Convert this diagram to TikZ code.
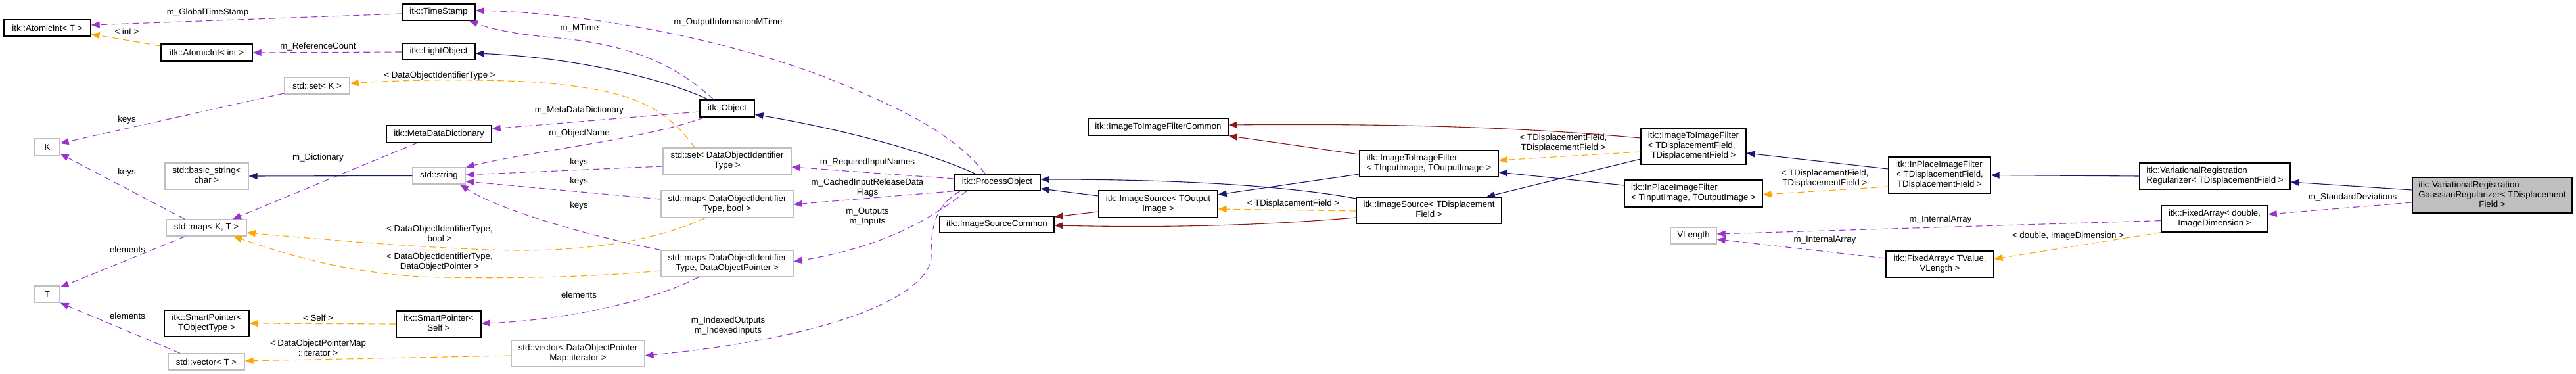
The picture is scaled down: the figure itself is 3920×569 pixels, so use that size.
\documentclass[tikz,border=0pt]{standalone}
\usepackage{fontspec}
\setmainfont{Liberation Sans}
\usetikzlibrary{arrows.meta}
\definecolor{eblue}{HTML}{191970}
\definecolor{epurple}{HTML}{9A32CD}
\definecolor{eorange}{HTML}{FFA500}
\definecolor{ered}{HTML}{8B1A1A}
\definecolor{bgray}{HTML}{BFBFBF}
\newcommand{\dfont}{\fontsize{13.3}{15}\selectfont}
\newcommand{\twol}[2]{\begin{tabular}{@{}l@{}}#1\\\multicolumn{1}{@{}c@{}}{#2}\end{tabular}}
\newcommand{\threel}[3]{\begin{tabular}{@{}l@{}}#1\\#2\\\multicolumn{1}{@{}c@{}}{#3}\end{tabular}}
\begin{document}
\begin{tikzpicture}[x=1pt,y=-1pt,
  sz/.style 2 args={minimum width=#1pt,minimum height=#2pt},
  cls/.style={draw=black, line width=1.3pt, inner sep=0pt, font=\dfont},
  ext/.style={draw=bgray, line width=1.3pt, inner sep=0pt, font=\dfont},
  lbl/.style={font=\dfont, inner sep=0pt, align=center},
  tip/.style={-{Triangle[length=13pt,width=10pt]}},
  inh/.style={draw=eblue, line width=1.1pt, tip},
  priv/.style={draw=ered, line width=1.1pt, tip},
  use/.style={draw=epurple, line width=1.1pt, dash pattern=on 10pt off 6pt, tip},
  tmpl/.style={draw=eorange, line width=1.1pt, dash pattern=on 10pt off 6pt, tip}]
\fill[white] (0,0) rectangle (3920,569);
\useasboundingbox (0,0) rectangle (3920,569);

% nodes
\node[cls,sz={132}{25}] (atT) at (72,42.5) {itk::AtomicInt< T >};
\node[cls,sz={139}{26}] (atInt) at (314.5,80) {itk::AtomicInt< int >};
\node[ext,sz={99}{25}] (setK) at (482.5,130.5) {std::set< K >};
\node[ext,sz={38}{26}] (K) at (72,224) {K};
\node[ext,sz={127}{40}] (bstr) at (314.5,268) {\twol{std::basic\_string<}{char >}};
\node[ext,sz={122}{25}] (mapKT) at (314,346.5) {std::map< K, T >};
\node[ext,sz={38}{25}] (T) at (72,447.5) {T};
\node[cls,sz={129}{40}] (spTOT) at (314.5,492) {\twol{itk::SmartPointer<}{TObjectType >}};
\node[ext,sz={116}{25}] (vecT) at (314,550.5) {std::vector< T >};
\node[cls,sz={111}{25}] (ts) at (667.5,18.5) {itk::TimeStamp};
\node[cls,sz={111}{25}] (lo) at (667.5,78.5) {itk::LightObject};
\node[cls,sz={160}{26}] (mdd) at (668,204) {itk::MetaDataDictionary};
\node[ext,sz={80}{25}] (str) at (668,267.5) {std::string};
\node[cls,sz={129}{40}] (spSelf) at (667.5,493) {\twol{itk::SmartPointer<}{Self >}};
\node[cls,sz={83}{26}] (obj) at (1106.5,165) {itk::Object};
\node[ext,sz={195}{40}] (setD) at (1106.5,245) {\twol{std::set< DataObjectIdentifier}{Type >}};
\node[ext,sz={201}{41}] (mapDB) at (1106.5,310.5) {\twol{std::map< DataObjectIdentifier}{Type, bool >}};
\node[ext,sz={201}{40}] (mapDP) at (1106.5,401) {\twol{std::map< DataObjectIdentifier}{Type, DataObjectPointer >}};
\node[ext,sz={203}{40}] (vecD) at (879.5,538) {\twol{std::vector< DataObjectPointer}{Map::iterator >}};
\node[cls,sz={131}{25}] (po) at (1517.5,277.5) {itk::ProcessObject};
\node[cls,sz={213}{26}] (itifc) at (1762.5,193) {itk::ImageToImageFilterCommon};
\node[cls,sz={181}{41}] (isTO) at (1762.5,310.5) {\twol{itk::ImageSource< TOutput}{Image >}};
\node[cls,sz={174}{25}] (isc) at (1517,341.5) {itk::ImageSourceCommon};
\node[cls,sz={211}{40}] (itifTT) at (2174.5,249) {\twol{itk::ImageToImageFilter}{< TInputImage, TOutputImage >}};
\node[cls,sz={221}{40}] (isD) at (2174.5,320) {\twol{itk::ImageSource< TDisplacement}{Field >}};
\node[cls,sz={160}{55}] (itifD) at (2577,222.5) {\threel{itk::ImageToImageFilter}{< TDisplacementField,}{TDisplacementField >}};
\node[cls,sz={210}{41}] (ipTT) at (2577,294.5) {\twol{itk::InPlaceImageFilter}{< TInputImage, TOutputImage >}};
\node[ext,sz={70}{25}] (vlen) at (2577,358.5) {VLength};
\node[cls,sz={155}{55}] (ipD) at (2951.5,266.5) {\threel{itk::InPlaceImageFilter}{< TDisplacementField,}{TDisplacementField >}};
\node[cls,sz={164}{40}] (faTV) at (2952,402) {\twol{itk::FixedArray< TValue,}{VLength >}};
\node[cls,sz={229}{40}] (vrr) at (3370.5,268) {\twol{itk::VariationalRegistration}{Regularizer< TDisplacementField >}};
\node[cls,sz={162}{40}] (faD) at (3370,333) {\twol{itk::FixedArray< double,}{ImageDimension >}};
\node[cls,fill=bgray,sz={243}{54}] (gauss) at (3792.5,297) {\threel{itk::VariationalRegistration}{GaussianRegularizer< TDisplacement}{Field >}};

% labels
\node[lbl] (l1) at (316,19) {m\_GlobalTimeStamp};
\node[lbl] (l2) at (193,48) {< int >};
\node[lbl] (l3) at (484,71) {m\_ReferenceCount};
\node[lbl] (l4) at (669,115) {< DataObjectIdentifierType >};
\node[lbl] (l5) at (193,182.5) {keys};
\node[lbl] (l6) at (193,262) {keys};
\node[lbl] (l7) at (484,240.5) {m\_Dictionary};
\node[lbl] (l9) at (669,355) {< DataObjectIdentifierType,\\bool >};
\node[lbl] (l10) at (669,398.5) {< DataObjectIdentifierType,\\DataObjectPointer >};
\node[lbl] (l11) at (881,247) {keys};
\node[lbl] (l12) at (881,276) {keys};
\node[lbl] (l13) at (881,313) {keys};
\node[lbl] (l14) at (881.5,167.6) {m\_MetaDataDictionary};
\node[lbl] (l15) at (881.5,203.5) {m\_ObjectName};
\node[lbl] (l17) at (882,43.5) {m\_MTime};
\node[lbl] (l18) at (1108,34.5) {m\_OutputInformationMTime};
\node[lbl] (l20) at (1320,247) {m\_RequiredInputNames};
\node[lbl] (l21) at (1320,286) {m\_CachedInputReleaseData\\Flags};
\node[lbl] (l22) at (1320,329.5) {m\_Outputs\\m\_Inputs};
\node[lbl] (l23) at (1108,496) {m\_IndexedOutputs\\m\_IndexedInputs};
\node[lbl] (l24) at (484,484) {< Self >};
\node[lbl] (l25) at (881,448.5) {elements};
\node[lbl] (l26) at (194,481) {elements};
\node[lbl] (l27) at (194,380) {elements};
\node[lbl] (l28) at (484,529) {< DataObjectPointerMap\\::iterator >};
\node[lbl] (l32) at (1968,310) {< TDisplacementField >};
\node[lbl] (l36) at (2379,217.5) {< TDisplacementField,\\TDisplacementField >};
\node[lbl] (l40) at (2777,272) {< TDisplacementField,\\TDisplacementField >};
\node[lbl] (l43) at (3580,300.5) {m\_StandardDeviations};
\node[lbl] (l44) at (2953,334.5) {m\_InternalArray};
\node[lbl] (l45) at (2777,365) {m\_InternalArray};
\node[lbl] (l46) at (3147,359) {< double, ImageDimension >};

% edges
\draw[use] (ts.west |- 0,21) -- (atT.east |- 0,38);
\draw[tmpl] (atInt.west |- 0,70) -- (atT.east |- 0,52);
\draw[use] (lo.west |- 0,79) -- (atInt.east |- 0,80);
\draw[tmpl] (setD.north -| 1057,0) .. controls (1010,160) and (960,135) .. (800,124) .. controls (700,120) and (600,122) .. (setK.east |- 0,127);
\draw[use] (setK.west |- 0,142) -- (K.east |- 0,218);
\draw[use] (mapKT.north -| 281,0) -- (K.east |- 0,234);
\draw[use] (mdd.south -| 634,0) -- (mapKT.north -| 354,0);
\draw[inh] (str.west) -- (bstr.east);
\draw[tmpl] (mapDB.south -| 1073,0) .. controls (1000,365) and (900,382) .. (780,381) .. controls (650,378) and (500,365) .. (mapKT.east |- 0,354);
\draw[tmpl] (mapDP.west |- 0,412) .. controls (900,422) and (750,425) .. (640,421) .. controls (520,414) and (430,385) .. (mapKT.south -| 355,0);
\draw[use] (setD.west |- 0,253) -- (str.east |- 0,266);
\draw[use] (mapDB.west |- 0,303) -- (str.east |- 0,276);
\draw[use] (mapDP.north west) .. controls (900,360) and (760,320) .. (str.south -| 700,0);
\draw[use] (obj.west |- 0,170) -- (mdd.east |- 0,196);
\draw[use] (obj.south -| 1072,0) .. controls (980,212) and (820,228) .. (str.north east);
\draw[inh] (obj.north -| 1078,0) .. controls (1010,120) and (880,88) .. (lo.east |- 0,81);
\draw[use] (obj.north -| 1086,0) .. controls (1040,110) and (980,70) .. (850,58) .. controls (790,53) and (750,45) .. (ts.south -| 714,0);
\draw[use] (po.north -| 1499,0) .. controls (1450,200) and (1360,160) .. (1250,115) .. controls (1100,60) and (900,20) .. (ts.east |- 0,16);
\draw[inh] (po.north -| 1484,0) .. controls (1420,235) and (1300,200) .. (obj.east |- 0,174);
\draw[use] (po.west |- 0,272) -- (setD.east |- 0,254);
\draw[use] (po.south west) -- (mapDB.east |- 0,311);
\draw[use] (po.south -| 1471,0) .. controls (1420,330) and (1350,375) .. (mapDP.east |- 0,398);
\draw[use] (po.south -| 1461,0) .. controls (1420,315) and (1417,350) .. (1417,390) .. controls (1417,440) and (1300,510) .. (vecD.east |- 0,541);
\draw[tmpl] (spSelf.west) -- (spTOT.east);
\draw[use] (mapDP.south -| 1063,0) .. controls (990,460) and (850,488) .. (spSelf.east |- 0,492);
\draw[use] (vecT.north -| 274,0) -- (T.south east);
\draw[use] (mapKT.south -| 282,0) -- (T.east |- 0,437);
\draw[tmpl] (vecD.west |- 0,541) -- (vecT.east |- 0,549);
\draw[inh] (isTO.west |- 0,298) -- (po.east |- 0,287);
\draw[priv] (isTO.west |- 0,322) -- (isc.east |- 0,330);
\draw[inh] (itifTT.west |- 0,265) -- (isTO.east |- 0,296);
\draw[inh] (isD.west |- 0,302) .. controls (1960,283) and (1800,273) .. (po.east |- 0,273);
\draw[tmpl] (isD.west |- 0,321) -- (isTO.east |- 0,318);
\draw[priv] (isD.west |- 0,331) .. controls (1900,345) and (1750,346) .. (isc.east |- 0,343);
\draw[priv] (itifTT.west |- 0,235) -- (itifc.south east);
\draw[priv] (itifD.west |- 0,210) .. controls (2300,192) and (2100,188) .. (itifc.east |- 0,190);
\draw[tmpl] (itifD.west |- 0,231) -- (itifTT.east |- 0,244);
\draw[inh] (itifD.west |- 0,242) -- (isD.north -| 2262,0);
\draw[inh] (ipTT.west |- 0,282) -- (itifTT.east |- 0,262);
\draw[inh] (ipD.west |- 0,257) -- (itifD.east |- 0,233);
\draw[tmpl] (ipD.west |- 0,284) -- (ipTT.east |- 0,296);
\draw[inh] (vrr.west) -- (ipD.east);
\draw[inh] (gauss.west |- 0,289) -- (vrr.east |- 0,277);
\draw[use] (gauss.west |- 0,308) -- (faD.east |- 0,326);
\draw[use] (faD.west |- 0,335.6) -- (vlen.east |- 0,356);
\draw[use] (faTV.west |- 0,393) -- (vlen.east |- 0,364);
\draw[tmpl] (faD.south west) -- (faTV.east |- 0,394);
\end{tikzpicture}
\end{document}
